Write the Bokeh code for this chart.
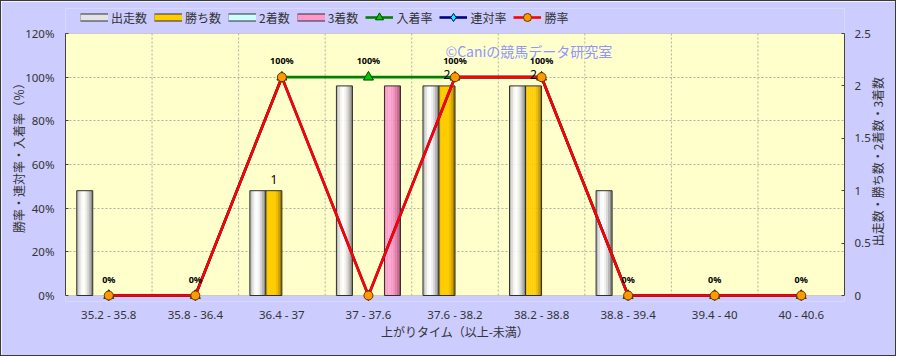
import math
from bokeh.plotting import figure
from bokeh.models import (Range1d, LinearAxis, FixedTicker, ColumnDataSource, Legend,
                          LegendItem, Label, PrintfTickFormatter, BoxAnnotation)
from bokeh.core.properties import value
from bokeh.embed import file_html
from bokeh.resources import INLINE

# ---------------- data ----------------
categories = ["35.2 - 35.8", "35.8 - 36.4", "36.4 - 37", "37 - 37.6", "37.6 - 38.2",
              "38.2 - 38.8", "38.8 - 39.4", "39.4 - 40", "40 - 40.6"]
runs = [1, 0, 1, 2, 2, 2, 1, 0, 0]          # 出走数
wins = [0, 0, 1, 0, 2, 2, 0, 0, 0]          # 勝ち数
seconds = [0, 0, 0, 0, 0, 0, 0, 0, 0]       # 2着数
thirds = [0, 0, 0, 2, 0, 0, 0, 0, 0]        # 3着数
place_rate = [0, 0, 100, 100, 100, 100, 0, 0, 0]     # 入着率
quinella_rate = [0, 0, 100, 0, 100, 100, 0, 0, 0]    # 連対率
win_rate = [0, 0, 100, 0, 100, 100, 0, 0, 0]         # 勝率
pct_ticks = [0, 20, 40, 60, 80, 100, 120]
count_ticks = [0, 0.5, 1, 1.5, 2, 2.5]

FONT_JP = "Noto Sans CJK JP"
FONT = "Noto Sans"
TXT = "#333333"

n = len(categories)
centers = [i + 0.5 for i in range(n)]
pct_max = pct_ticks[-1]
cnt_max = count_ticks[-1]

# The frame reaches up into the legend band and a little below the zero line;
# the yellow plot area itself spans 0..120 %.
PLOT_H = 262.0    # px of the 0..120 % area
EXT_T = 25.0      # px of frame above the plot area
EXT_B = 6.0       # px of frame below the plot area
lo_f = -EXT_B / PLOT_H
hi_f = (PLOT_H + EXT_T) / PLOT_H

p = figure(width=896, height=356, output_backend="svg", toolbar_location=None,
           x_range=Range1d(0, n), y_range=Range1d(pct_max * lo_f, pct_max * hi_f),
           min_border_left=64, min_border_right=53, min_border_top=7, min_border_bottom=56)
p.styles = {"border": "1px solid #3a3a3a"}
p.background_fill_color = "#CCCCFF"
p.border_fill_color = "#CCCCFF"
p.outline_line_color = None
p.extra_y_ranges = {"cnt": Range1d(cnt_max * lo_f, cnt_max * hi_f)}

# plot area
p.add_layout(BoxAnnotation(left=0, right=n, bottom=0, top=pct_max, fill_color="#FFFFCC",
                           fill_alpha=1, line_color="#8a8a8a", line_width=1, level="image"))

# grids
p.xgrid.visible = False
p.ygrid.ticker = FixedTicker(ticks=pct_ticks[1:-1])
p.ygrid.grid_line_color = "#b0b0a0"
p.ygrid.grid_line_dash = "2 2"
bounds_x = list(range(1, n))
p.segment(x0=bounds_x, x1=bounds_x, y0=[0] * len(bounds_x), y1=[pct_max] * len(bounds_x),
          line_color="#b0b0a0", line_dash="2 2", line_width=1)

# axes
xa = p.xaxis[0]
xa.ticker = FixedTicker(ticks=centers)
xa.major_label_overrides = {c: lab for c, lab in zip(centers, categories)}
xa.axis_label = "上がりタイム（以上-未満）"
ya = p.yaxis[0]
ya.ticker = FixedTicker(ticks=pct_ticks)
ya.formatter = PrintfTickFormatter(format="%d%%")
ya.bounds = (0, pct_max)
ya.axis_label = "勝率・連対率・入着率（％）"
ra = LinearAxis(y_range_name="cnt", ticker=FixedTicker(ticks=count_ticks), bounds=(0, cnt_max))
ra.major_label_overrides = {t: f"{t:g}" for t in count_ticks}
p.add_layout(ra, "right")

for ax in (xa, ya, ra):
    ax.axis_line_color = "#444444"
    ax.major_tick_line_color = "#444444"
    ax.minor_tick_line_color = None
    ax.major_tick_in = 3
    ax.major_tick_out = 0
    ax.major_label_text_font = FONT
    ax.major_label_text_font_size = "11.5px"
    ax.major_label_text_color = TXT
    ax.axis_label_text_font = FONT_JP
    ax.axis_label_text_font_size = "12px"
    ax.axis_label_text_font_style = "normal"
    ax.axis_label_text_color = TXT
xa.axis_line_color = None
xa.major_tick_line_color = None
xa.major_tick_in = 0
xa.major_label_standoff = 5
xa.axis_label_standoff = -2
ya.major_label_standoff = 11
ya.axis_label_standoff = -5
ra.major_label_standoff = 10

# right-hand axis title, reading bottom-to-top like the left one
right_title = "出走数・勝ち数・2着数・3着数"
title_anchor = 0.47
rt = LinearAxis(y_range_name="cnt", ticker=FixedTicker(ticks=[title_anchor]))
rt.major_label_overrides = {title_anchor: right_title}
rt.major_label_orientation = math.pi / 2
rt.axis_line_color = None
rt.major_tick_line_color = None
rt.minor_tick_line_color = None
rt.major_tick_in = 0
rt.major_tick_out = 0
rt.major_label_standoff = 4
rt.major_label_text_font = FONT_JP
rt.major_label_text_font_size = "12px"
rt.major_label_text_color = TXT
p.add_layout(rt, "right")

# ---------------- bars (gradient simulated with slices) ----------------
bw = 0.185
offsets = [-1.5 * bw, -0.5 * bw, 0.5 * bw, 1.5 * bw]
grad = {
    "runs": ["#bdbdbd", "#dedede", "#f8f8f8", "#ffffff", "#f2f2f2", "#dadada", "#b8b8b8", "#8a8a8a"],
    "wins": ["#f2c200", "#ffcc00", "#ffcc00", "#ffcc00", "#ffcc00", "#f0bf00", "#d4a600", "#a07c00"],
    "seconds": ["#b8f0f0", "#ccffff", "#ddffff", "#ccffff", "#c0f4f4", "#a8e4e4", "#90d0d0", "#70b0b0"],
    "thirds": ["#f590c0", "#ff99cc", "#ffa6d2", "#ff99cc", "#f590c2", "#e47cb0", "#cc6a9a", "#a85078"],
}
legend_fill = {"runs": "#e4e4e4", "wins": "#ffcc00", "seconds": "#ccffff", "thirds": "#ff99cc"}
series = [("runs", runs, "出走数"), ("wins", wins, "勝ち数"),
          ("seconds", seconds, "2着数"), ("thirds", thirds, "3着数")]
legend_items = []
NS = 8
nan = float("nan")
for (key, vals, name), off in zip(series, offsets):
    xs = [c + off for c, v in zip(centers, vals) if v > 0]
    tops = [v for v in vals if v > 0]
    sw = bw / NS
    for k, col in enumerate(grad[key]):
        src = ColumnDataSource(dict(x=[x - bw / 2 + (k + 0.5) * sw for x in xs], top=tops))
        p.vbar(x="x", top="top", bottom=0, width=sw * 1.08, source=src, y_range_name="cnt",
               fill_color=col, line_color=None)
    src = ColumnDataSource(dict(x=xs, top=tops))
    p.vbar(x="x", top="top", bottom=0, width=bw, source=src, y_range_name="cnt",
           fill_color=None, line_color="#303030", line_width=1)
    # legend swatch proxies (no drawable data): a bordered band
    b1 = p.line(x=[nan], y=[nan], line_color="#303030", line_width=8, line_cap="butt")
    b2 = p.line(x=[nan], y=[nan], line_color=legend_fill[key], line_width=6, line_cap="butt")
    legend_items.append(LegendItem(label=name, renderers=[b1, b2]))

# ---------------- lines ----------------
line_series = [
    (place_rate, "入着率", "#008000", "triangle", "#00cc00", "#004000", 10),
    (quinella_rate, "連対率", "#000080", "diamond", "#00ffff", "#000060", 10),
    (win_rate, "勝率", "#ff0000", "circle", "#ff9900", "#663300", 9),
]
for vals, name, lc, mk, fc, mlc, sz in line_series:
    src = ColumnDataSource(dict(x=centers, y=vals))
    l = p.line("x", "y", source=src, line_color=lc, line_width=2.6)
    s = p.scatter("x", "y", source=src, marker=mk, size=sz, fill_color=fc, line_color=mlc, line_width=1)
    legend_items.append(LegendItem(label=name, renderers=[l, s]))

# value labels for 入着率
lab_src = ColumnDataSource(dict(x=centers, y=place_rate, t=[f"{v}%" for v in place_rate]))
p.text("x", "y", text="t", source=lab_src, text_align="center", text_baseline="bottom",
       y_offset=-10, text_font=value(FONT), text_font_size="9px", text_font_style="bold",
       text_color="#000000")
# value labels for 勝ち数
wx = [c + offsets[1] for c, v in zip(centers, wins) if v > 0]
wy = [v for v in wins if v > 0]
wsrc = ColumnDataSource(dict(x=wx, y=wy, t=[str(v) for v in wy]))
p.text("x", "y", text="t", source=wsrc, y_range_name="cnt", text_align="center",
       text_baseline="bottom", y_offset=-7, text_font=value(FONT), text_font_size="12px",
       text_color="#000000")

# watermark
p.add_layout(Label(x=4.39, y=112.2, text="©Caniの競馬データ研究室", text_font=FONT_JP,
                   text_font_size="14px", text_color="#8f96ff", text_baseline="middle"))

legend = Legend(items=legend_items, orientation="horizontal", location=(15, 274),
                glyph_width=28, glyph_height=20, label_standoff=3, spacing=7, padding=0,
                margin=0, background_fill_alpha=0, border_line_alpha=0,
                label_text_font=FONT_JP, label_text_font_size="12px", label_text_color=TXT)
p.add_layout(legend)

open("out.html", "w").write(file_html(p, INLINE))
